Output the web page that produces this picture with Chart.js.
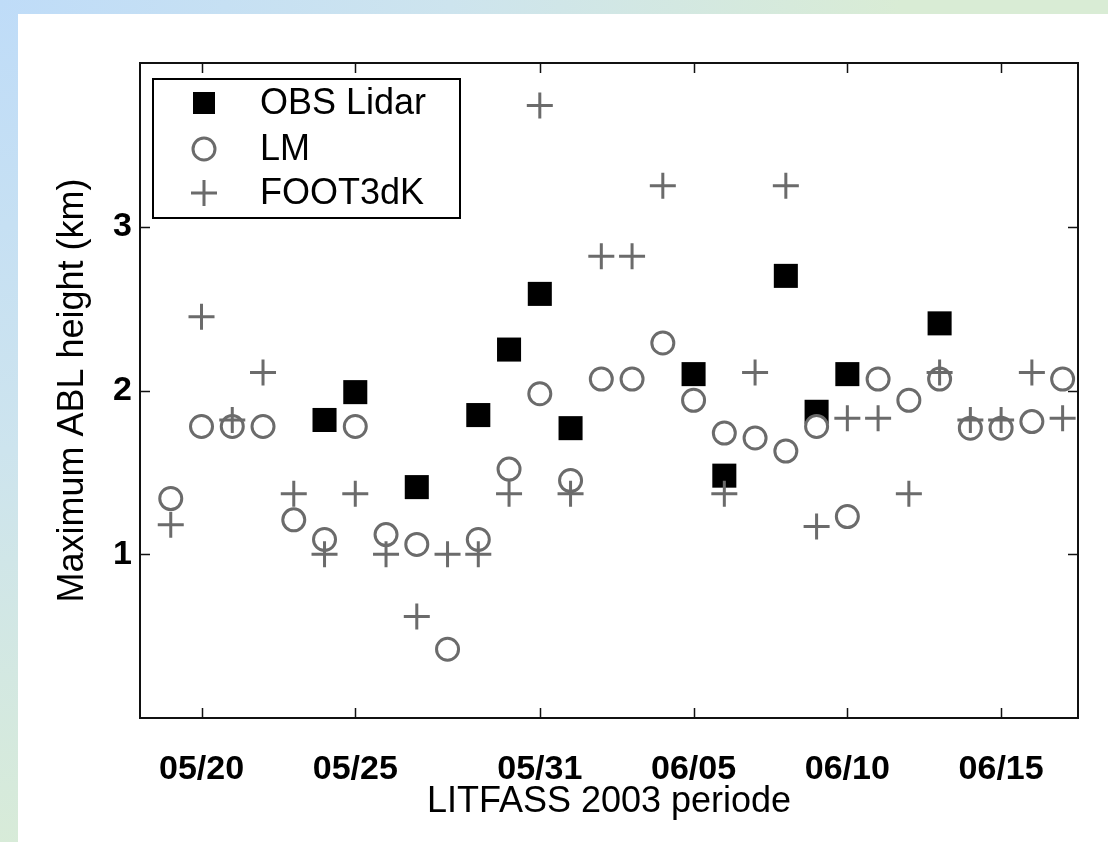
<!DOCTYPE html>
<html>
<head>
<meta charset="utf-8">
<script src="https://cdn.jsdelivr.net/npm/chart.js@4.4.1/dist/chart.umd.min.js"></script>
<style>
html, body { margin: 0; padding: 0; }
body {
    width: 1108px; height: 842px; overflow: hidden;
    background: radial-gradient(circle at 0 0, #bfdcf8 0px, #cde4ee 450px, #d9ecd5 900px);
}
#wrap { position: absolute; left: 18px; top: 14px; width: 1090px; height: 828px; background: #fff; }
</style>
</head>
<body>
<div id="wrap"><canvas id="ablChart" width="1090" height="828"></canvas></div>
<script>
// days are day-of-year 2003 (140 = 05/20)
const tickDays = [140, 145, 151, 156, 161, 166];
const tickLabels = ['05/20', '05/25', '05/31', '06/05', '06/10', '06/15'];
const heightTicks = [1, 2, 3];

const lidarDays = [144, 145, 147, 149, 150, 151, 152, 156, 157, 159, 160, 161, 164];
const lidarHeight = [1.82, 1.99, 1.41, 1.85, 2.25, 2.59, 1.77, 2.10, 1.48, 2.70, 1.87, 2.10, 2.41];

const modelDays = [139, 140, 141, 142, 143, 144, 145, 146, 147, 148, 149, 150, 151,
    152, 153, 154, 155, 156, 157, 158, 159, 160, 161, 162, 163, 164, 165, 166, 167, 168];
const lmHeight = [1.34, 1.78, 1.78, 1.78, 1.21, 1.09, 1.78, 1.12, 1.06, 0.42, 1.09, 1.52, 1.98,
    1.45, 2.07, 2.07, 2.29, 1.94, 1.74, 1.71, 1.63, 1.78, 1.23, 2.07, 1.94, 2.07, 1.77, 1.77, 1.81, 2.07];
const footHeight = [1.18, 2.45, 1.82, 2.11, 1.37, 1.00, 1.37, 1.00, 0.62, 1.00, 1.00, 1.37, 3.74,
    1.37, 2.82, 2.82, 3.25, null, 1.37, 2.11, 3.25, 1.17, 1.83, 1.83, 1.37, 2.11, 1.82, 1.82, 2.11, 1.83];

const GREY = '#6b6b6b';

const toPoints = (days, values) => days
    .map((d, i) => ({x: d, y: values[i]}))
    .filter(p => p.y !== null);

// matlab style box, inward ticks and legend inside the axes
const framePlugin = {
    id: 'frame',
    afterDatasetsDraw(chart) {
        const {ctx, chartArea} = chart;
        const {left, top, right, bottom} = chartArea;
        const xs = chart.scales.x, ys = chart.scales.y;
        ctx.save();
        ctx.strokeStyle = '#111';
        ctx.lineWidth = 1.5;
        ctx.beginPath();
        xs.ticks.forEach(t => {
            let px = Math.round(xs.getPixelForValue(t.value)) + 0.5;
            ctx.moveTo(px, bottom); ctx.lineTo(px, bottom - 10);
            ctx.moveTo(px, top); ctx.lineTo(px, top + 10);
        });
        ys.ticks.forEach(t => {
            let py = Math.round(ys.getPixelForValue(t.value)) + 0.5;
            ctx.moveTo(left, py); ctx.lineTo(left + 10, py);
            ctx.moveTo(right, py); ctx.lineTo(right - 10, py);
        });
        ctx.stroke();
        ctx.lineWidth = 2;
        ctx.strokeRect(left, top, right - left, bottom - top);

        // legend
        const bx = left + 13, by = top + 16, bw = 307, bh = 139;
        ctx.fillStyle = '#fff';
        ctx.fillRect(bx, by, bw, bh);
        ctx.strokeStyle = '#000';
        ctx.lineWidth = 2;
        ctx.strokeRect(bx, by, bw, bh);
        const rows = [24, 70, 114];
        ctx.font = '36px "Liberation Sans", Arial, sans-serif';
        ctx.textBaseline = 'middle';
        chart.data.datasets.forEach((ds, i) => {
            let mx = bx + 51, my = by + rows[i];
            ctx.lineWidth = ds.borderWidth;
            ctx.strokeStyle = ds.borderColor;
            ctx.fillStyle = ds.backgroundColor;
            if (ds.pointStyle === 'rect') {
                ctx.fillRect(mx - 11, my - 11, 22, 22);
            } else if (ds.pointStyle === 'circle') {
                ctx.beginPath();
                ctx.arc(mx, my, ds.pointRadius, 0, Math.PI * 2);
                ctx.fill();
                ctx.stroke();
            } else {
                let r = ds.pointRadius;
                ctx.beginPath();
                ctx.moveTo(mx, my - r); ctx.lineTo(mx, my + r);
                ctx.moveTo(mx - r, my); ctx.lineTo(mx + r, my);
                ctx.stroke();
            }
            ctx.fillStyle = '#000';
            ctx.fillText(ds.label, bx + 107, my + 1);
        });
        ctx.restore();
    }
};

Chart.defaults.font.family = '"Liberation Sans", Arial, Helvetica, sans-serif';

const ctxA = document.getElementById('ablChart').getContext('2d');
const ablChart = new Chart(ctxA, {
    type: 'scatter',
    data: {
        datasets: [{
            label: 'OBS Lidar',
            data: toPoints(lidarDays, lidarHeight),
            pointStyle: 'rect',
            pointRadius: 17,
            pointHoverRadius: 17,
            backgroundColor: '#000',
            borderColor: '#000',
            borderWidth: 0,
            order: 3
        }, {
            label: 'LM',
            data: toPoints(modelDays, lmHeight),
            pointStyle: 'circle',
            pointRadius: 11,
            pointHoverRadius: 11,
            backgroundColor: '#fff',
            borderColor: GREY,
            borderWidth: 3,
            order: 2
        }, {
            label: 'FOOT3dK',
            data: toPoints(modelDays, footHeight),
            pointStyle: 'cross',
            pointRadius: 13,
            pointHoverRadius: 13,
            backgroundColor: GREY,
            borderColor: GREY,
            borderWidth: 3,
            order: 1
        }]
    },
    options: {
        responsive: false,
        animation: false,
        devicePixelRatio: 1,
        layout: {padding: {left: 0, top: 49, right: 30, bottom: 0}},
        plugins: {
            legend: {display: false},
            tooltip: {enabled: false}
        },
        scales: {
            x: {
                type: 'linear',
                min: 138,
                max: 168.5,
                afterBuildTicks: (s) => { s.ticks = tickDays.map(v => ({value: v})); },
                afterFit: (s) => { s.height = 124; },
                grid: {display: false, drawTicks: false},
                border: {display: false},
                ticks: {
                    autoSkip: false,
                    maxRotation: 0,
                    padding: 31,
                    color: '#000',
                    font: {size: 34, weight: 'bold'},
                    callback: (v, i) => tickLabels[i]
                },
                title: {
                    display: true,
                    text: 'LITFASS 2003 periode',
                    color: '#000',
                    font: {size: 36},
                    padding: {top: 0, bottom: 18}
                }
            },
            y: {
                min: 0,
                max: 4,
                afterBuildTicks: (s) => { s.ticks = heightTicks.map(v => ({value: v})); },
                afterFit: (s) => { s.width = 122; },
                grid: {display: false, drawTicks: false},
                border: {display: false},
                ticks: {
                    padding: 8,
                    color: '#000',
                    font: {size: 34, weight: 'bold'}
                },
                title: {
                    display: true,
                    text: 'Maximum ABL height (km)',
                    color: '#000',
                    font: {size: 36},
                    padding: {top: 33, bottom: 0}
                }
            }
        }
    },
    plugins: [framePlugin]
});
</script>
</body>
</html>
